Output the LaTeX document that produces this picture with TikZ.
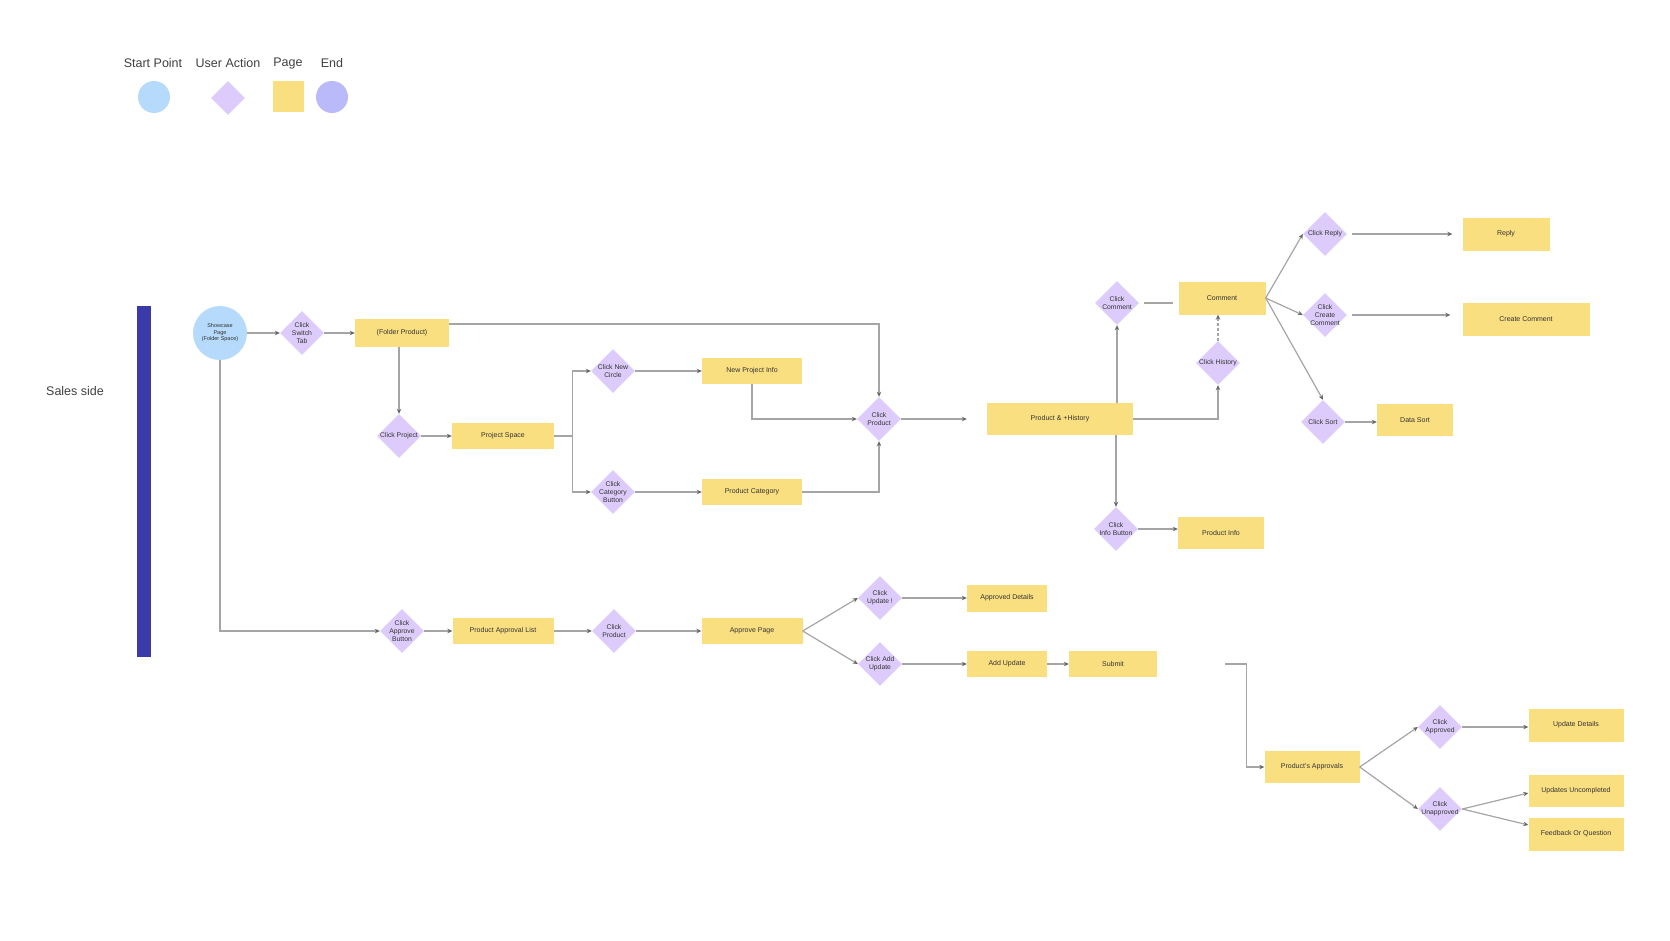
\documentclass[tikz,border=0pt]{standalone}
\usepackage{fontspec}
\setmainfont{Liberation Sans}
\usetikzlibrary{positioning,arrows.meta,shapes.geometric,calc}
\definecolor{startC}{RGB}{181,218,251}
\definecolor{actionC}{RGB}{221,204,251}
\definecolor{pageC}{RGB}{250,223,128}
\definecolor{endC}{RGB}{186,186,250}
\definecolor{laneC}{RGB}{60,58,170}
\definecolor{lineC}{RGB}{165,165,165}

\begin{document}
\begin{tikzpicture}[x=1pt,y=-1pt,
                  pg/.style={fill=pageC,inner sep=0pt,minimum width=#1,minimum height=26pt,font=\fontsize{7}{8.5}\selectfont,text=black!80},
                  act/.style={diamond,fill=actionC,inner sep=0pt,minimum size=44pt,label={[acttxt]center:#1}},
                  acttxt/.style={align=center,font=\fontsize{6.8}{7.6}\selectfont,text=black!80},
                  lg/.style={font=\fontsize{12.5}{15}\selectfont,text=black!75},
                  arr/.style={draw=lineC,line width=1.2pt,-{Stealth[length=5pt,width=4.5pt,color=black!60]}},
                  ln/.style={draw=lineC,line width=1.2pt}
                ]
                \useasboundingbox (0,0) rectangle (1670,940);
                % legend
                \node[lg] (lgStart) at (153,63) {Start Point};
                \node[lg] (lgAct) at (228,63) {User Action};
                \node[lg] (lgPage) at (288,63) {Page};
                \node[lg] (lgEnd) at (332,63) {End};
                \node[circle,fill=startC,minimum size=32pt] (lgStartS) at (154,97) {};
                \node[diamond,fill=actionC,inner sep=0pt,minimum size=34pt] (lgActS) at (228,98) {};
                \node[fill=pageC,minimum size=31pt] (lgPageS) at (288,96) {};
                \node[circle,fill=endC,minimum size=32pt] (lgEndS) at (332,97) {};
                % lane
                \node[lg] (side) at (75,391) {Sales side};
                \fill[laneC] (137,306) rectangle (151,657);
                % top flow
                \node[circle,fill=startC,minimum size=54pt,inner sep=0pt,align=center,font=\fontsize{5.5}{6.5}\selectfont,text=black!80] (show) at (220,333) {Showcase\\Page\\(Folder Space)};
                \node[act={Click\\Switch\\Tab}] (cswitch) at (302,333) {};
                \node[pg=94pt,minimum height=28pt] (folder) at (402,333) {(Folder Product)};
                \node[act={Click Project}] (cproj) at (399,436) {};
                \node[pg=102pt] (pspace) at (503,436) {Project Space};
                \node[act={Click New\\Circle}] (cnew) at (613,371) {};
                \node[pg=100pt] (newinfo) at (752,371) {New Project Info};
                \node[act={Click\\Category\\Button}] (ccat) at (613,492) {};
                \node[pg=100pt] (pcat) at (752,492) {Product Category};
                \node[act={Click\\Product}] (cprod) at (879,419) {};
                \node[pg=146pt,minimum height=32pt] (phist) at (1060,419) {Product \& +History};
                \node[act={Click\\Comment}] (ccom) at (1117,303) {};
                \node[pg=87pt,minimum height=33pt] (comm) at (1222,298) {Comment};
                \node[act={Click History}] (chist) at (1218,363) {};
                \node[act={Click Reply}] (creply) at (1325,234) {};
                \node[pg=87pt,minimum height=33pt] (reply) at (1506,234) {Reply};
                \node[act={Click\\Create\\Comment}] (ccreate) at (1325,315) {};
                \node[pg=127pt,minimum height=33pt] (create) at (1526,319) {Create Comment};
                \node[act={Click Sort}] (csort) at (1323,422) {};
                \node[pg=76pt,minimum height=32pt] (dsort) at (1415,420) {Data Sort};
                \node[act={Click\\Info Button}] (cinfo) at (1116,529) {};
                \node[pg=86pt,minimum height=32pt] (pinfo) at (1221,533) {Product Info};
                % approval flow
                \node[act={Click\\Approve\\Button}] (cappb) at (402,631) {};
                \node[pg=101pt] (plist) at (503,631) {Product Approval List};
                \node[act={Click\\Product}] (cprod2) at (614,631) {};
                \node[pg=101pt] (appage) at (752,631) {Approve Page};
                \node[act={Click\\Update !}] (cupd) at (880,598) {};
                \node[pg=80pt,minimum height=27pt] (apdet) at (1007,598) {Approved Details};
                \node[act={Click Add\\Update}] (cadd) at (880,664) {};
                \node[pg=80pt] (addup) at (1007,664) {Add Update};
                \node[pg=88pt] (submit) at (1113,664) {Submit};
                \node[pg=95pt,minimum height=32pt] (papp) at (1312,767) {Product's Approvals};
                \node[act={Click\\Approved}] (cok) at (1440,727) {};
                \node[act={Click\\Unapproved}] (cno) at (1440,809) {};
                \node[pg=95pt,minimum height=33pt] (updet) at (1576,725) {Update Details};
                \node[pg=95pt,minimum height=32pt] (uncomp) at (1576,791) {Updates Uncompleted};
                \node[pg=95pt,minimum height=33pt] (fback) at (1576,834) {Feedback Or Question};
                \coordinate (fork) at ($(pspace.east)+(18,0)$);
                \coordinate (drop) at ($(submit.east)+(89,0)$);

                \draw[arr] (show) -- (cswitch);
                \draw[arr] (cswitch) -- (folder);
                \draw[arr] (folder.south -| cproj.north) -- (cproj.north);
                \draw[arr] (cproj) -- (pspace);
                \draw[ln] (pspace.east) -- (fork);
                \draw[arr] (fork) |- (cnew.west);
                \draw[arr] (fork) |- (ccat.west);
                \draw[arr] (cnew) -- (newinfo);
                \draw[arr] (ccat) -- (pcat);
                \draw[arr] ([yshift=9pt]folder.east) -| (cprod.north);
                \draw[arr] (newinfo.south) |- (cprod.west);
                \draw[arr] (pcat.east) -| (cprod.south);
                \draw[arr,shorten >=20pt] (cprod) -- (phist);
                \draw[arr] (phist.north -| ccom.south) -- (ccom.south);
                \draw[ln,shorten <=5pt,shorten >=5pt] (ccom.east) -- (ccom.east -| comm.west);
                \draw[arr,densely dashed] (chist.north) -- (chist.north |- comm.south);
                \draw[arr] (phist.east) -| (chist.south);
                \draw[arr] (comm.east) -- (creply.west);
                \draw[arr] (comm.east) -- (ccreate.west);
                \draw[arr] (comm.east) -- (csort.north);
                \draw[arr,shorten <=5pt,shorten >=10pt] (creply.east) -- (creply.east -| reply.west);
                \draw[arr,shorten <=5pt,shorten >=12pt] (ccreate.east) -- (ccreate.east -| create.west);
                \draw[arr] (csort.east) -- (csort.east -| dsort.west);
                \draw[arr] (phist.south -| cinfo.north) -- (cinfo.north);
                \draw[arr] (cinfo.east) -- (cinfo.east -| pinfo.west);
                \draw[arr] (show.south) |- (cappb.west);
                \draw[arr] (cappb) -- (plist);
                \draw[arr] (plist) -- (cprod2);
                \draw[arr] (cprod2) -- (appage);
                \draw[arr] (appage.east) -- (cupd.west);
                \draw[arr] (appage.east) -- (cadd.west);
                \draw[arr] (cupd) -- (apdet);
                \draw[arr] (cadd) -- (addup);
                \draw[arr] (addup) -- (submit);
                \draw[arr] ([xshift=68pt]submit.east) -- (drop) |- (papp.west);
                \draw[arr] (papp.east) -- (cok.west);
                \draw[arr] (papp.east) -- (cno.west);
                \draw[arr] (cok.east) -- (cok.east -| updet.west);
                \draw[arr] (cno.east) -- ([yshift=-2pt]uncomp.west);
                \draw[arr] (cno.east) -- ([yshift=9pt]fback.west);
                \end{tikzpicture}
\end{document}
